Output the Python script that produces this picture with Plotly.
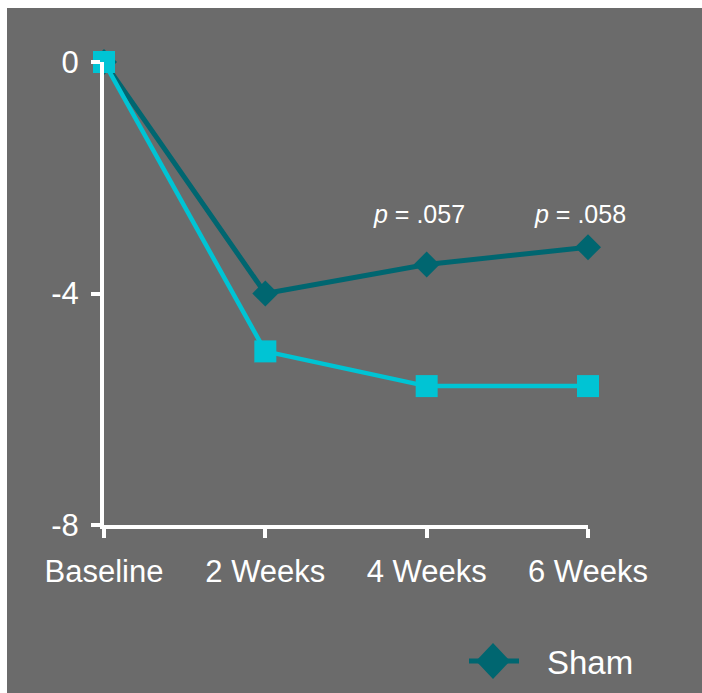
import plotly.graph_objects as go

# Time points and mean change from baseline for each group
timepoints = ["Baseline", "2 Weeks", "4 Weeks", "6 Weeks"]
sham_change = [0, -4.0, -3.5, -3.2]
active_change = [0, -5.0, -5.6, -5.6]
y_ticks = [0, -4, -8]
p_labels = ["p = .057", "p = .058"]
p_positions = [2, 3]
legend_name = "Sham"

x_idx = list(range(len(timepoints)))

BG = "#6b6b6b"
TEAL = "#006670"
CYAN = "#00c4d4"
FONT = "Liberation Sans, Arial, sans-serif"

# plot-area geometry in pixels
W, H = 702, 693
L, T, PW, PH = 104, 62, 484, 463


def px(x):
    return (x - L) / PW


def py(y):
    return (T + PH - y) / PH


fig = go.Figure()

fig.add_trace(go.Scatter(
    x=x_idx, y=sham_change, mode="lines+markers", name=legend_name,
    line=dict(color=TEAL, width=5),
    marker=dict(symbol="diamond", size=20, color=TEAL),
    cliponaxis=False, showlegend=False,
))
fig.add_trace(go.Scatter(
    x=x_idx, y=active_change, mode="lines+markers", name="Active",
    line=dict(color=CYAN, width=4.5),
    marker=dict(symbol="square", size=22, color=CYAN),
    cliponaxis=False, showlegend=False,
))

for xi, txt in zip(p_positions, p_labels):
    p, rest = txt.split(" ", 1)
    fig.add_annotation(
        x=xi, y=-2.62, xref="x", yref="y", xshift=-8,
        text=f"<i>{p}</i> {rest}", showarrow=False,
        font=dict(family=FONT, size=25, color="white"),
    )

# legend key: line with a diamond, then the series name
fig.add_shape(type="line", xref="paper", yref="paper",
              x0=px(469), x1=px(519), y0=py(661), y1=py(661),
              line=dict(color=TEAL, width=5))
cx, cy, hw, hh = 493, 661, 17, 18
fig.add_shape(type="path", xref="paper", yref="paper",
              path=(f"M {px(cx - hw)} {py(cy)} L {px(cx)} {py(cy - hh)} "
                    f"L {px(cx + hw)} {py(cy)} L {px(cx)} {py(cy + hh)} Z"),
              fillcolor=TEAL, line_width=0)
fig.add_annotation(x=px(545), y=py(662), xref="paper", yref="paper",
                   xanchor="left", yanchor="middle", showarrow=False,
                   text=legend_name,
                   font=dict(family=FONT, size=33, color="white"))

# white frame strips along top and left edges
fig.add_shape(type="rect", xref="paper", yref="paper",
              x0=-1, x1=2, y0=py(8), y1=2,
              fillcolor="white", line_width=0, layer="above")
fig.add_shape(type="rect", xref="paper", yref="paper",
              x0=-1, x1=px(7), y0=-1, y1=2,
              fillcolor="white", line_width=0, layer="above")

axis_style = dict(
    showline=True, linecolor="white", linewidth=4,
    ticks="outside", ticklen=9, tickwidth=4, tickcolor="white",
    showgrid=False, zeroline=False,
    tickfont=dict(family=FONT, size=31, color="white"),
)
fig.update_xaxes(range=[0, 3], tickmode="array", tickvals=x_idx,
                 ticktext=timepoints, ticklabelstandoff=7, **axis_style)
fig.update_yaxes(range=[-8, 0], tickmode="array", tickvals=y_ticks,
                 ticktext=[str(v) for v in y_ticks],
                 ticklabelstandoff=6, **axis_style)

fig.update_layout(
    width=W, height=H,
    margin=dict(l=L, r=W - L - PW, t=T, b=H - T - PH, pad=0),
    paper_bgcolor=BG, plot_bgcolor=BG,
    showlegend=False,
)

fig.write_html("out.html")
